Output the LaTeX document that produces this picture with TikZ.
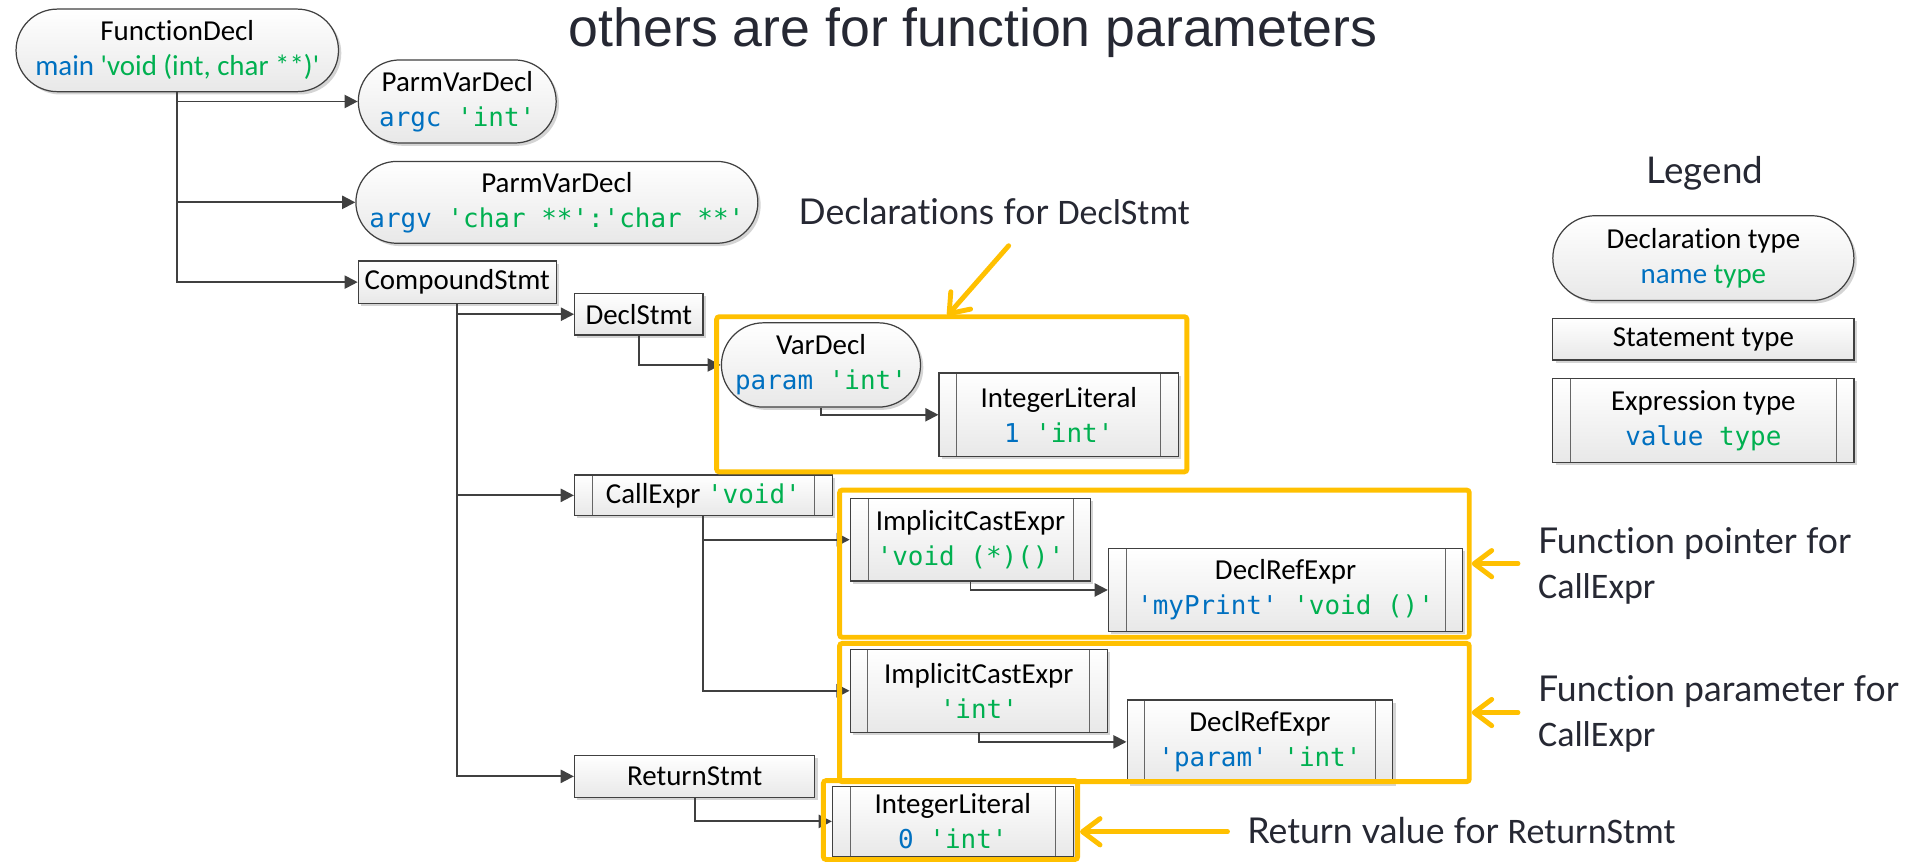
\documentclass[tikz,border=0pt]{standalone}
\usepackage{fontspec}
\setmainfont{Carlito}[Ligatures=CommonOff]
\newfontfamily\monof{DejaVu Sans Mono}
\newfontfamily\latof{Lato}[Ligatures=CommonOff]
\newfontfamily\titlef{Liberation Sans}
\usetikzlibrary{arrows.meta,shapes.misc,shadows}
\definecolor{cblue}{RGB}{0,112,192}
\definecolor{cgreen}{RGB}{0,176,80}
\definecolor{ylw}{RGB}{255,192,0}
\definecolor{linecol}{RGB}{64,64,64}
\definecolor{anncol}{RGB}{38,40,51}
\newcommand{\sq}{\textquotesingle}
\newcommand{\unitpx}{0.6966pt}
\newcommand{\mono}[1]{{\monof\fontsize{14.8}{20}\selectfont #1}}
\newcommand{\blu}[1]{\textcolor{cblue}{#1}}
\newcommand{\grn}[1]{\textcolor{cgreen}{#1}}
\tikzset{
  base/.style={draw=linecol, line width=0.7pt, top color=white, bottom color=black!9,
    inner sep=0pt, align=center, font=\fontsize{16.5}{20}\selectfont,
    drop shadow={shadow xshift=1.6pt, shadow yshift=-1.6pt, opacity=0.28, fill=black!60}},
  declbox/.style={base, rounded rectangle},
  stmtbox/.style={base, rectangle},
  exprbox/.style={base, rectangle, path picture={
      \draw[black!60, line width=0.5pt]
        ([xshift=10.1pt]path picture bounding box.north west) -- ([xshift=10.1pt]path picture bounding box.south west)
        ([xshift=-10.1pt]path picture bounding box.north east) -- ([xshift=-10.1pt]path picture bounding box.south east);}},
  sz/.style 2 args={minimum width=#1*\unitpx, minimum height=#2*\unitpx},
  conn/.style={draw=linecol, line width=1.1pt, -{Triangle[length=7.5pt,width=7.5pt]}},
  ybox/.style={draw=ylw, line width=2.8pt, rounded corners=1.5pt, inner sep=0pt},
  yarrow/.style={draw=ylw, line width=2.8pt, line cap=round,
    -{Straight Barb[length=10pt,width=15pt,line cap=round,line join=round]}},
  ann/.style={anchor=base west, inner sep=0pt, text=anncol, font=\latof\fontsize{20.3}{24}\selectfont},
  ann2/.style={anchor=base west, inner sep=0pt, text=anncol, font=\fontsize{20.5}{24}\selectfont},
}
\begin{document}
\begin{tikzpicture}[x=0.0245cm, y=-0.0245cm]
\useasboundingbox (0,0) rectangle (1568,705);

% title
\node[anchor=base west, inner sep=0pt, text=anncol, font=\titlef\fontsize{30.6}{36}\selectfont] (title) at (465,38.2) {others are for function parameters};

% tree nodes
\node[declbox, sz={264}{67.6}] (fd) at (145,41.2) {FunctionDecl\\\blu{main} \grn{\sq void (int, char **)\sq}};
\node[declbox, sz={162}{68}] (pv1) at (374,83) {ParmVarDecl\\\mono{\blu{argc} \grn{\sq int\sq}}};
\node[declbox, sz={325}{67}] (pv2) at (455.5,165.5) {ParmVarDecl\\\mono{\blu{argv} \grn{\sq char **\sq:\sq char **\sq}}};
\node[stmtbox, sz={162}{34.5}] (cs) at (374,230.75) {CompoundStmt};
\node[stmtbox, sz={105}{34}] (ds) at (522.5,257) {DeclStmt};
\node[declbox, sz={163}{69}] (vd) at (671.5,298.5) {VarDecl\\\mono{\blu{param} \grn{\sq int\sq}}};
\node[exprbox, sz={196}{68.5}] (il1) at (866,339.25) {IntegerLiteral\\\mono{\blu{1} \grn{\sq int\sq}}};
\node[exprbox, sz={211}{33.3}] (ce) at (575.3,405.15) {CallExpr \mono{\grn{\sq void\sq}}};
\node[exprbox, sz={196.8}{67.6}] (ice1) at (793.8,441.4) {ImplicitCastExpr\\\mono{\grn{\sq void (*)()\sq}}};
\node[exprbox, sz={290}{68.3}] (dre1) at (1051.5,482.55) {DeclRefExpr\\\mono{\blu{\sq myPrint\sq} \grn{\sq void ()\sq}}};
\node[exprbox, sz={210.7}{68}] (ice2) at (800.65,565) {ImplicitCastExpr\\\mono{\grn{\sq int\sq}}};
\node[exprbox, sz={217.5}{68.4}] (dre2) at (1030.55,606.8) {DeclRefExpr\\\mono{\blu{\sq param\sq} \grn{\sq int\sq}}};
\node[stmtbox, sz={196.8}{34}] (rs) at (568.2,635) {ReturnStmt};
\node[exprbox, sz={197.1}{57.7}] (il2) at (779.35,671.85) {IntegerLiteral\\\mono{\blu{0} \grn{\sq int\sq}}};

% connectors
\draw[conn] (fd.south) |- (pv1.west);
\draw[conn] (fd.south) |- (pv2.west);
\draw[conn] (fd.south) |- (cs.west);
\draw[conn] (cs.south) |- (ds.west);
\draw[conn] (cs.south) |- (ce.west);
\draw[conn] (cs.south) |- (rs.west);
\draw[conn] (ds.south) |- (vd.west);
\draw[conn] (vd.south) |- (il1.west);
\draw[conn] (ce.south) |- (ice1.west);
\draw[conn] (ce.south) |- (ice2.west);
\draw[conn] (ice1.south) |- (dre1.west);
\draw[conn] (ice2.south) |- (dre2.west);
\draw[conn] (rs.south) |- (il2.west);

% legend
\node[anchor=base, inner sep=0pt, text=anncol, font=\latof\fontsize{21}{24}\selectfont] (legend) at (1394.7,150) {Legend};
\node[declbox, sz={246.5}{69.5}] (ldecl) at (1393.25,211.15) {Declaration type\\\blu{name} \grn{type}};
\node[stmtbox, sz={246.5}{34.1}] (lstmt) at (1393.25,277.45) {Statement type};
\node[exprbox, sz={246.5}{68.9}] (lexpr) at (1393.25,343.95) {Expression type\\\mono{\blu{value} \grn{type}}};

% highlight boxes
\node[ybox, sz={385}{127}] (y1) at (778.5,322.5) {};
\node[ybox, sz={515.5}{120.5}] (y2) at (944.25,461.05) {};
\node[ybox, sz={515.5}{113.2}] (y3) at (944.25,582.8) {};
\node[ybox, sz={208.1}{64.5}] (y4) at (777.45,670.75) {};

% highlight arrows
\coordinate (a1s) at (825,201);
\coordinate (a1e) at (775,258);
\draw[yarrow] (a1s) -- (a1e);
\coordinate (a2s) at (1241.6,461.05);
\draw[yarrow] (a2s) -- (y2.east);
\coordinate (a3s) at (1241.6,582.8);
\draw[yarrow] (a3s) -- (y3.east);
\coordinate (a4s) at (1004,680.3);
\draw[yarrow] (a4s) -- (a4s -| y4.east);

% annotations
\node[ann] (t1) at (653,184) {Declarations for {\rmfamily\fontsize{20.5}{24}\selectfont DeclStmt}};
\node[ann] (t2) at (1257.8,452.6) {Function pointer for};
\node[ann2] (t2b) at (1257.8,489.4) {CallExpr};
\node[ann] (t3) at (1257.8,574) {Function parameter for};
\node[ann2] (t3b) at (1257.8,610.7) {CallExpr};
\node[ann] (t4) at (1020,690.3) {Return value for {\rmfamily\fontsize{20.5}{24}\selectfont ReturnStmt}};
\end{tikzpicture}
\end{document}
